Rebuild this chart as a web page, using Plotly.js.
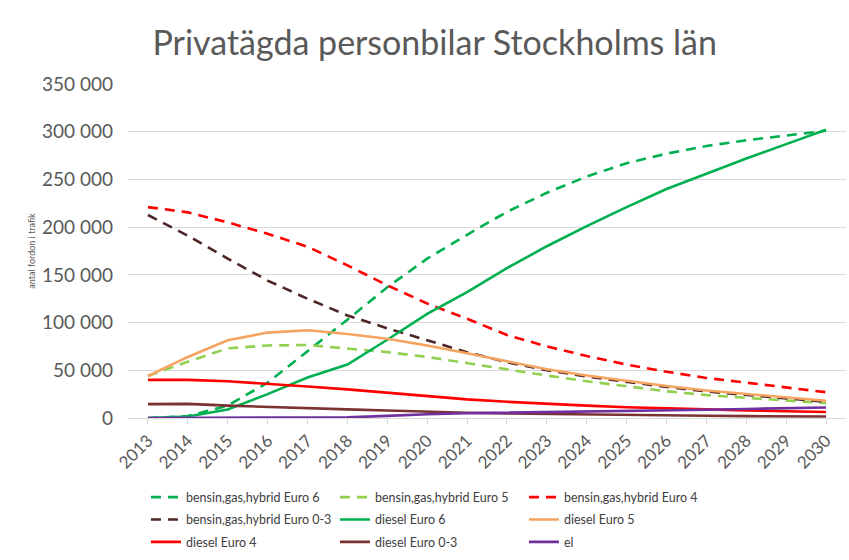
<!DOCTYPE html>
<html>
<head>
<meta charset="utf-8">
<script src="https://cdn.plot.ly/plotly-3.0.1.min.js"></script>
<style>html,body{margin:0;padding:0;background:#fff;}#chart{width:849px;height:560px;}</style>
</head>
<body>
<div id="chart"></div>
<script>
const years = [2013,2014,2015,2016,2017,2018,2019,2020,2021,2022,2023,2024,2025,2026,2027,2028,2029,2030];
const bensinE6  = [0,2000,13000,37000,70000,103000,137000,167000,192000,216000,236000,253000,267000,277000,285000,291000,296000,301000];
const bensinE5  = [44000,59000,73000,76000,76500,73000,69000,64000,57500,50500,44500,38500,33500,28000,24000,21000,18000,15500];
const bensinE4  = [221000,215500,205000,193000,179500,160000,139000,120000,104000,87000,75000,65000,56000,48500,42000,37000,32000,27000];
const bensinE03 = [212700,191000,167000,144000,125000,107500,94000,81500,69000,58500,50000,43500,38000,32500,27800,24000,20500,17000];
const dieselE6  = [0,1500,9000,25000,42500,56000,82000,109000,132000,157000,180000,201000,221000,240000,256000,272000,287000,302000];
const dieselE5  = [44000,64000,81500,89500,92000,88000,83000,76000,67800,59500,51000,44500,39000,33500,28800,25000,21500,18000];
const dieselE4  = [40000,40000,38500,36000,33000,30000,26500,23000,19500,17000,14800,13000,11300,10000,9000,8000,7000,6300];
const dieselE03 = [14500,14800,13000,11500,10300,9000,7800,6500,5500,4800,4200,3600,3000,2600,2300,2000,1800,1500];
const el        = [0,0,0,0,300,700,2200,4000,5000,5500,6000,6700,7300,8000,8700,9500,10300,11000];

const names = ["bensin,gas,hybrid Euro 6","bensin,gas,hybrid Euro 5","bensin,gas,hybrid Euro 4",
  "bensin,gas,hybrid Euro 0-3","diesel Euro 6","diesel Euro 5","diesel Euro 4","diesel Euro 0-3","el"];
const series = [bensinE6,bensinE5,bensinE4,bensinE03,dieselE6,dieselE5,dieselE4,dieselE03,el];
const colors = ["#00B050","#92D050","#FF0000","#4E2626","#00B050","#F4A460","#FF0000","#7A3232","#7030A0"];
const dashes = ["10px,7px","10px,7px","10px,7px","10px,7px","solid","solid","solid","solid","solid"];
const legendIds = ["legend","legend","legend","legend2","legend2","legend2","legend3","legend3","legend3"];

const traces = series.map((ys,i)=>({
  x: years, y: ys, type:"scatter", mode:"lines", name: names[i],
  line:{color:colors[i], width:2.6, dash:dashes[i]},
  legend: legendIds[i], hoverinfo:"skip"
}));

const font = "Lato, 'Open Sans', sans-serif";
const legBase = {orientation:"h", x:0.025, xanchor:"left", yanchor:"middle",
  font:{family:font,size:12.5,color:"#404040"}, entrywidth:144, entrywidthmode:"pixels",
  bgcolor:"rgba(0,0,0,0)", itemclick:false, traceorder:"normal"};

const layout = {
  width:849, height:560,
  margin:{l:128, r:3, t:84, b:140},
  paper_bgcolor:"#fff", plot_bgcolor:"#fff",
  separators:", ",
  showlegend:true,
  title:{text:"Privatägda personbilar Stockholms län", font:{family:font,size:34,color:"#595959"},
    x:0.512, xref:"container", xanchor:"center", y:0.923, yref:"container", yanchor:"middle"},
  xaxis:{range:[2012.5,2030.5], tickmode:"array", tickvals:years, ticktext:years.map(String),
    tickangle:-45, tickfont:{family:font,size:17,color:"#595959"},
    showgrid:false, showline:true, linecolor:"#d9d9d9", linewidth:1,
    ticks:"outside", ticklen:5, tickcolor:"#d9d9d9", zeroline:false, fixedrange:true},
  yaxis:{range:[0,350000], dtick:50000, tickformat:",d",
    tickfont:{family:font,size:19,color:"#595959"}, ticklabelstandoff:14,
    gridcolor:"#d9d9d9", gridwidth:1, zeroline:false, showline:false, ticks:"", ticklen:0,
    title:{text:"antal fordon i trafik", font:{family:font,size:9,color:"#595959"}, standoff:4},
    fixedrange:true},
  legend: Object.assign({}, legBase, {y:-0.238}),
  legend2: Object.assign({}, legBase, {y:-0.305}),
  legend3: Object.assign({}, legBase, {y:-0.372})
};

Plotly.newPlot("chart", traces, layout, {displayModeBar:false, staticPlot:true});
</script>
</body>
</html>
